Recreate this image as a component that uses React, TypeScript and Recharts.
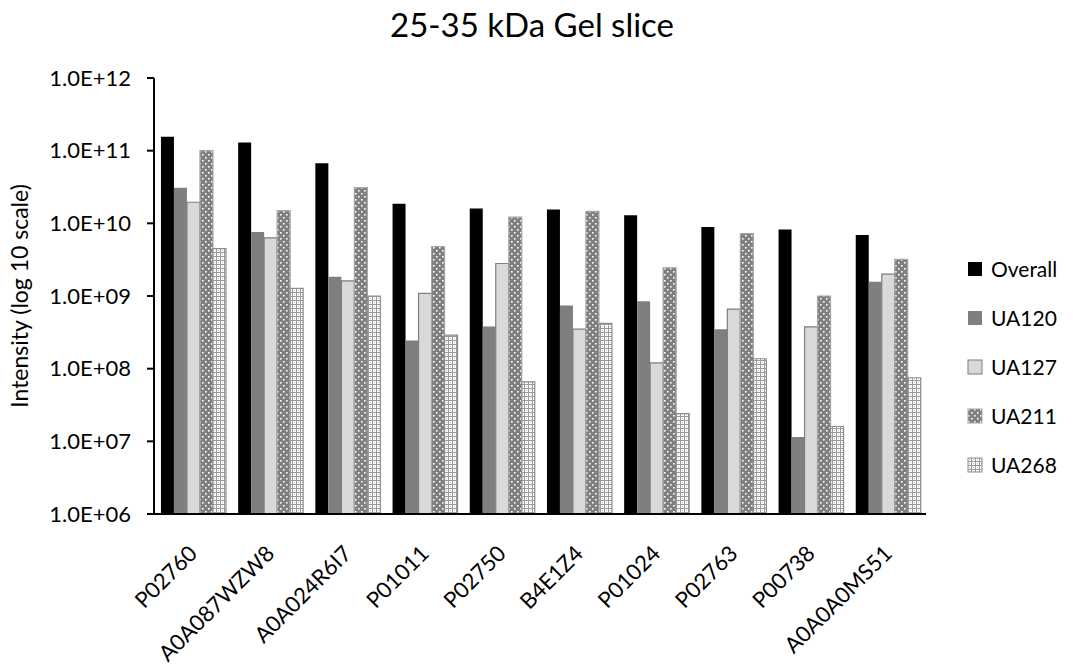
import React from 'react';
import { BarChart, Bar, XAxis, YAxis } from 'recharts';

// protein accessions along the x axis
const categories = [
  'P02760',
  'A0A087WZW8',
  'A0A024R6I7',
  'P01011',
  'P02750',
  'B4E1Z4',
  'P01024',
  'P02763',
  'P00738',
  'A0A0A0MS51',
];

// intensities
const overall = [1.55e11, 1.3e11, 6.7e10, 1.86e10, 1.6e10, 1.55e10, 1.29e10, 8.9e9, 8.2e9, 6.9e9];
const ua120 = [3.1e10, 7.6e9, 1.84e9, 2.44e8, 3.8e8, 7.4e8, 8.5e8, 3.5e8, 1.15e7, 1.57e9];
const ua127 = [1.95e10, 6.3e9, 1.62e9, 1.09e9, 2.8e9, 3.5e8, 1.2e8, 6.6e8, 3.76e8, 2.0e9];
const ua211 = [1.0e11, 1.5e10, 3.1e10, 4.8e9, 1.22e10, 1.46e10, 2.44e9, 7.2e9, 1.0e9, 3.2e9];
const ua268 = [4.5e9, 1.27e9, 1.0e9, 2.9e8, 6.6e7, 4.2e8, 2.4e7, 1.37e8, 1.6e7, 7.5e7];

const yTicks = [1e6, 1e7, 1e8, 1e9, 1e10, 1e11, 1e12];

const FONT = 'Lato, "Open Sans", sans-serif';

const series = [
  { key: 'Overall', fill: '#000000', stroke: 'none' },
  { key: 'UA120', fill: '#7f7f7f', stroke: 'none' },
  { key: 'UA127', fill: '#d9d9d9', stroke: '#7f7f7f' },
  { key: 'UA211', fill: 'url(#dots211)', stroke: '#a6a6a6' },
  { key: 'UA268', fill: 'url(#grid268)', stroke: '#8c8c8c' },
];

const chartData = categories.map((name, i) => ({
  name,
  Overall: overall[i],
  UA120: ua120[i],
  UA127: ua127[i],
  UA211: ua211[i],
  UA268: ua268[i],
}));

const formatSci = (v: number) => {
  const exp = Math.floor(Math.log10(v) + 1e-9);
  const mant = v / Math.pow(10, exp);
  return `${mant.toFixed(1)}E+${String(exp).padStart(2, '0')}`;
};

function Patterns({ prefix = '' }: { prefix?: string }) {
  return (
    <defs>
      <pattern id={`${prefix}dots211`} width="6" height="6" patternUnits="userSpaceOnUse">
        <rect width="6" height="6" fill="#7f7f7f" />
        <rect x="1" y="1" width="1.6" height="1.6" fill="#ffffff" />
        <rect x="4" y="4" width="1.6" height="1.6" fill="#ffffff" />
      </pattern>
      <pattern id={`${prefix}grid268`} width="4" height="4" patternUnits="userSpaceOnUse">
        <rect width="4" height="4" fill="#ffffff" />
        <path d="M0 0.5 H4 M0.5 0 V4" stroke="#9a9a9a" strokeWidth="1" />
        <rect x="2" y="2" width="1" height="1" fill="#c8c8c8" />
      </pattern>
    </defs>
  );
}

function XTick(props: any) {
  const { x, y, payload } = props;
  return (
    <g transform={`translate(${x},${y})`}>
      <text
        x={6}
        y={33}
        transform="rotate(-45, 6, 33)"
        textAnchor="end"
        fill="#000"
        fontSize={22}
        fontFamily={FONT}
      >
        {payload.value}
      </text>
    </g>
  );
}

function YLabel(props: any) {
  const { viewBox } = props;
  const cx = 28;
  const cy = viewBox.y + viewBox.height / 2;
  return (
    <text
      x={cx}
      y={cy}
      transform={`rotate(-90, ${cx}, ${cy})`}
      textAnchor="middle"
      fill="#000"
      fontSize={23}
      fontFamily={FONT}
    >
      Intensity (log 10 scale)
    </text>
  );
}

function LegendBox() {
  return (
    <div style={{ position: 'absolute', left: 967, top: 244, fontFamily: FONT }}>
      {series.map((s) => (
        <div
          key={s.key}
          style={{ display: 'flex', alignItems: 'center', height: 49, fontSize: 21, color: '#000' }}
        >
          <svg width={16} height={16} style={{ marginRight: 8 }}>
            <Patterns prefix="lg-" />
            <rect
              x={1}
              y={1}
              width={14}
              height={14}
              fill={s.fill.replace('url(#', 'url(#lg-')}
              stroke={s.stroke}
              strokeWidth={1}
            />
          </svg>
          <span>{s.key}</span>
        </div>
      ))}
    </div>
  );
}

export default function App() {
  return (
    <div style={{ position: 'absolute', left: 0, top: 0, width: 1073, height: 664, background: '#fff' }}>
      <div
        style={{
          position: 'absolute',
          left: 0,
          width: 1064,
          top: 4,
          textAlign: 'center',
          fontFamily: FONT,
          fontSize: 33,
          lineHeight: '40px',
          color: '#000',
        }}
      >
        25-35 kDa Gel slice
      </div>
      <BarChart
        width={1073}
        height={664}
        data={chartData}
        margin={{ top: 78, right: 147, bottom: 0, left: 0 }}
        barCategoryGap="9%"
        barGap={0}
      >
        <Patterns />
        <XAxis
          dataKey="name"
          height={150}
          interval={0}
          tickLine={false}
          axisLine={{ stroke: '#000', strokeWidth: 2 }}
          tick={<XTick />}
        />
        <YAxis
          type="number"
          scale="log"
          domain={[1e6, 1e12]}
          ticks={yTicks}
          allowDataOverflow
          width={154}
          tickSize={7}
          tickMargin={16}
          axisLine={{ stroke: '#000', strokeWidth: 2 }}
          tickLine={{ stroke: '#000', strokeWidth: 2 }}
          tick={{ fill: '#000', fontSize: 22, fontFamily: FONT }}
          tickFormatter={formatSci}
          label={<YLabel />}
        />
        {series.map((s) => (
          <Bar
            key={s.key}
            dataKey={s.key}
            fill={s.fill}
            stroke={s.stroke}
            strokeWidth={1.2}
            isAnimationActive={false}
          />
        ))}
      </BarChart>
      <LegendBox />
    </div>
  );
}
